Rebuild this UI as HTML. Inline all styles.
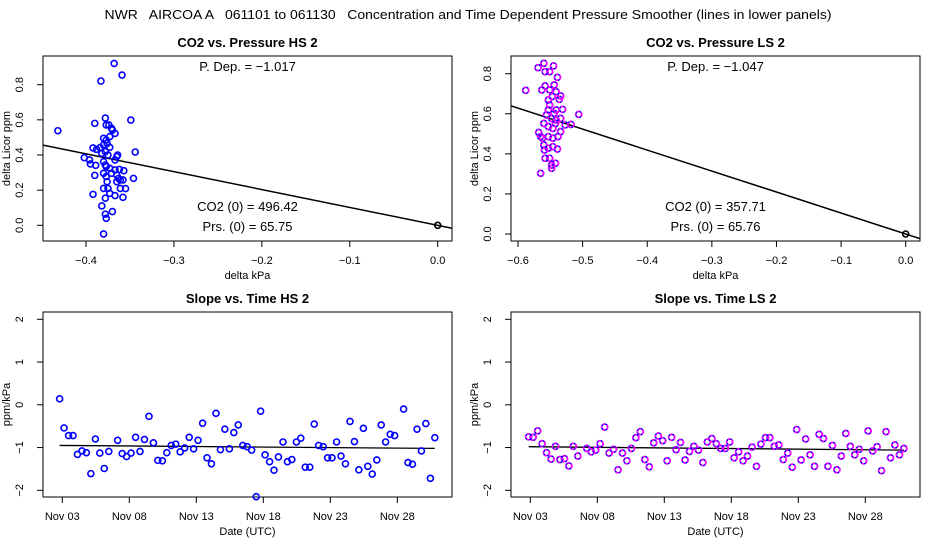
<!DOCTYPE html>
<html><head><meta charset="utf-8"><style>
html,body{margin:0;padding:0;background:#fff;}
svg{display:block;font-family:"Liberation Sans",sans-serif;}
</style></head><body>
<svg id="chart" width="936" height="540" viewBox="0 0 936 540" xmlns="http://www.w3.org/2000/svg">
<rect width="936" height="540" fill="#fff"/>
<text x="468" y="19" text-anchor="middle" font-size="13" style="white-space:pre" xml:space="preserve" textLength="727" lengthAdjust="spacingAndGlyphs">NWR   AIRCOA A   061101 to 061130   Concentration and Time Dependent Pressure Smoother (lines in lower panels)</text>
</svg>
<script>
// ---- data: top-left (HS) scatter ----
const hsDp = [-0.432,-0.368,-0.359,-0.383,-0.378,-0.349,-0.390,-0.344,-0.402,-0.396,-0.395,-0.389,-0.392,-0.388,-0.384,-0.380,-0.377,-0.373,-0.370,-0.367,-0.374,-0.377,-0.371,-0.380,-0.376,-0.373,-0.382,-0.378,-0.375,-0.365,-0.364,-0.367,-0.380,-0.378,-0.377,-0.373,-0.367,-0.362,-0.357,-0.390,-0.380,-0.377,-0.371,-0.365,-0.363,-0.361,-0.376,-0.365,-0.361,-0.355,-0.380,-0.375,-0.373,-0.367,-0.358,-0.378,-0.392,-0.382,-0.370,-0.378,-0.377,-0.380,-0.346,-0.358];
const hsDc = [0.538,0.921,0.855,0.821,0.610,0.599,0.580,0.417,0.385,0.372,0.349,0.341,0.440,0.432,0.442,0.457,0.485,0.504,0.542,0.523,0.571,0.571,0.552,0.495,0.466,0.444,0.409,0.419,0.400,0.391,0.400,0.372,0.362,0.343,0.334,0.324,0.315,0.318,0.311,0.284,0.296,0.277,0.296,0.286,0.267,0.258,0.248,0.248,0.210,0.209,0.210,0.210,0.182,0.169,0.159,0.154,0.176,0.110,0.078,0.063,0.040,-0.049,0.267,0.258];
const hsSlope = -1.017;
// ---- data: top-right (LS) scatter ----
const lsDp = [-0.588,-0.569,-0.560,-0.558,-0.551,-0.545,-0.539,-0.563,-0.558,-0.551,-0.544,-0.541,-0.534,-0.536,-0.553,-0.547,-0.551,-0.553,-0.541,-0.531,-0.506,-0.544,-0.556,-0.548,-0.541,-0.534,-0.518,-0.527,-0.560,-0.553,-0.546,-0.568,-0.562,-0.553,-0.546,-0.538,-0.534,-0.560,-0.553,-0.546,-0.539,-0.559,-0.558,-0.551,-0.548,-0.542,-0.548,-0.565,-0.565,-0.542];
const lsDc = [0.717,0.830,0.852,0.810,0.810,0.839,0.782,0.719,0.739,0.719,0.744,0.710,0.689,0.672,0.669,0.686,0.644,0.619,0.619,0.622,0.597,0.602,0.594,0.577,0.569,0.577,0.547,0.544,0.552,0.536,0.527,0.507,0.478,0.486,0.478,0.486,0.511,0.444,0.428,0.436,0.424,0.419,0.378,0.378,0.344,0.353,0.328,0.303,0.486,0.552];
const lsSlope = -1.047;
// ---- data: bottom-left (HS) slope vs time; day of November ----
const hsDays = [2.80,3.13,3.47,3.80,4.13,4.47,4.80,5.13,5.47,5.80,6.13,6.47,7.13,7.47,7.80,8.13,8.47,8.80,9.13,9.47,9.80,10.13,10.47,10.80,11.13,11.47,11.80,12.13,12.47,12.80,13.13,13.47,13.80,14.13,14.47,14.80,15.13,15.47,15.80,16.13,16.47,16.80,17.13,17.47,17.80,18.13,18.47,18.80,19.13,19.47,19.80,20.13,20.47,20.80,21.13,21.47,21.80,22.13,22.47,22.80,23.13,23.47,23.80,24.13,24.47,24.80,25.13,25.47,25.80,26.13,26.47,26.80,27.13,27.47,27.80,28.47,28.80,29.13,29.47,29.80,30.13,30.47,30.80];
const hsSlopes = [0.14,-0.54,-0.72,-0.72,-1.16,-1.08,-1.12,-1.61,-0.80,-1.13,-1.49,-1.09,-0.83,-1.14,-1.21,-1.13,-0.76,-1.09,-0.81,-0.27,-0.89,-1.30,-1.31,-1.12,-0.95,-0.92,-1.10,-1.01,-0.76,-1.03,-0.83,-0.43,-1.24,-1.38,-0.20,-1.05,-0.57,-1.03,-0.65,-0.47,-0.95,-0.98,-1.06,-2.15,-0.15,-1.17,-1.33,-1.53,-1.22,-0.87,-1.33,-1.28,-0.87,-0.78,-1.46,-1.46,-0.45,-0.95,-0.98,-1.24,-1.24,-0.87,-1.20,-1.38,-0.39,-0.86,-1.52,-0.55,-1.44,-1.62,-1.29,-0.47,-0.87,-0.69,-0.72,-0.10,-1.35,-1.39,-0.57,-1.08,-0.44,-1.72,-0.77];
const hsSmooth = [-0.95,-1.02];
// ---- data: bottom-right (LS) slope vs time ----
const lsDays = [2.88,3.21,3.55,3.88,4.21,4.55,4.88,5.21,5.55,5.88,6.21,6.55,7.21,7.55,7.88,8.21,8.55,8.88,9.21,9.55,9.88,10.21,10.55,10.88,11.21,11.55,11.88,12.21,12.55,12.88,13.21,13.55,13.88,14.21,14.55,14.88,15.21,15.55,15.88,16.21,16.55,16.88,17.21,17.55,17.88,18.21,18.55,18.88,19.21,19.55,19.88,20.21,20.55,20.88,21.21,21.55,21.88,22.21,22.55,22.88,23.21,23.55,23.88,24.21,24.55,24.88,25.21,25.55,25.88,26.21,26.55,26.88,27.21,27.55,27.88,28.21,28.55,28.88,29.21,29.55,29.88,30.21,30.55,30.88];
const lsSlopes = [-0.75,-0.76,-0.61,-0.91,-1.12,-1.27,-0.97,-1.28,-1.26,-1.43,-0.97,-1.20,-1.02,-1.10,-1.06,-0.91,-0.52,-1.13,-1.04,-1.52,-1.13,-1.31,-1.02,-0.77,-0.63,-1.28,-1.45,-0.89,-0.73,-0.84,-1.31,-0.76,-1.05,-0.88,-1.29,-1.09,-0.97,-1.06,-1.35,-0.87,-0.79,-0.91,-1.02,-1.02,-0.87,-1.24,-1.10,-1.31,-1.20,-0.99,-1.44,-0.92,-0.77,-0.77,-0.97,-0.94,-1.28,-1.13,-1.46,-0.58,-1.29,-0.80,-1.17,-1.44,-0.69,-0.79,-1.44,-0.95,-1.52,-1.20,-0.67,-0.97,-1.17,-1.04,-1.31,-0.61,-1.08,-0.98,-1.54,-0.63,-1.24,-0.94,-1.17,-1.02];
const lsSmooth = [-0.98,-1.06];
const dateTicks = [3,8,13,18,23,28];
const dateLabels = ["Nov 03","Nov 08","Nov 13","Nov 18","Nov 23","Nov 28"];
const hsXTicks = [-0.4,-0.3,-0.2,-0.1,0.0];
const lsXTicks = [-0.6,-0.5,-0.4,-0.3,-0.2,-0.1,0.0];
const topYTicks = [0.0,0.2,0.4,0.6,0.8];
const botYTicks = [-2,-1,0,1,2];

const svg = document.getElementById('chart');
const NS = 'http://www.w3.org/2000/svg';
function mk(tag, attrs, parent){const e=document.createElementNS(NS,tag);for(const k in attrs)e.setAttribute(k,attrs[k]);(parent||svg).appendChild(e);return e;}
function lin(d0,d1,r0,r1){return v=>r0+(v-d0)*(r1-r0)/(d1-d0);}
function fmt(v,d){let s=v.toFixed(d);if(v<0)s='\u2212'+s.slice(1);return s;}

function panel(p){
  const g=mk('g',{});
  
  
  const b=mk('rect',{x:p.L,y:p.T,width:p.R-p.L,height:p.B-p.T,fill:'none',stroke:'#000','stroke-width':1},g);
  
  
  const t=mk('text',{x:(p.L+p.R)/2,y:p.T-9,'text-anchor':'middle','font-size':13,'font-weight':'bold'},g);
  t.textContent=p.title;
  
  
  const xa=mk('g',{},g);
  
  
  const xs=p.xTicks.map(p.sx);
  mk('line',{x1:xs[0],x2:xs[xs.length-1],y1:p.B,y2:p.B,stroke:'#000'},xa);
  p.xTicks.forEach((v,i)=>{
    mk('line',{x1:xs[i],x2:xs[i],y1:p.B,y2:p.B+6,stroke:'#000'},xa);
    const tl=mk('text',{x:xs[i],y:p.B+23,'text-anchor':'middle','font-size':11},xa);
    tl.textContent=p.xLabels[i];
    
    
  });
  const xt=mk('text',{x:(p.L+p.R)/2,y:p.B+38,'text-anchor':'middle','font-size':11},g);
  xt.textContent=p.xTitle;
  
  
  const ya=mk('g',{},g);
  
  
  const ys=p.yTicks.map(p.sy);
  mk('line',{x1:p.L,x2:p.L,y1:ys[0],y2:ys[ys.length-1],stroke:'#000'},ya);
  p.yTicks.forEach((v,i)=>{
    mk('line',{x1:p.L-6,x2:p.L,y1:ys[i],y2:ys[i],stroke:'#000'},ya);
    const tl=mk('text',{x:0,y:0,'text-anchor':'middle','font-size':11,transform:`translate(${p.L-20},${ys[i]}) rotate(-90)`},ya);
    tl.textContent=p.yLabels[i];
    
    
  });
  const yt=mk('text',{x:0,y:0,'text-anchor':'middle','font-size':11,transform:`translate(${p.L-33},${(p.T+p.B)/2}) rotate(-90)`},g);
  yt.textContent=p.yTitle;
  
  
  return g;
}
function dot(g,x,y,magenta){
  if(magenta){
    const c1=mk('circle',{cx:x,cy:y,r:3,fill:'none',stroke:'#0000ff','stroke-width':1.6},g);
    
    
    mk('circle',{cx:x,cy:y,r:3,fill:'none',stroke:'#ff00ff','stroke-width':1.6,'stroke-dasharray':'2.5 1.5'},g);
  } else {
    const c=mk('circle',{cx:x,cy:y,r:3,fill:'none',stroke:'#0000ff','stroke-width':1.6},g);
    
    
  }
}
function clip(id,L,T,R,B){const cp=mk('clipPath',{id:id});mk('rect',{x:L,y:T,width:R-L,height:B-T},cp);}

function scatterPanel(o){
  const sx=lin(o.x0,0.0,o.px0,o.px1), sy=lin(0,0.8,o.py0,o.py1);
  const p={name:o.name,title:o.title,L:o.L,R:o.R,T:56,B:241,sx:sx,sy:sy,xTicks:o.xTicks,xLabels:o.xTicks.map(v=>fmt(v,1)),yTicks:topYTicks,yLabels:topYTicks.map(v=>v.toFixed(1)),xTitle:'delta kPa',yTitle:'delta Licor ppm'};
  const g=panel(p);
  clip(o.name+'-clip',p.L,p.T,p.R,p.B);
  const xmin=o.x0-(o.px0-p.L)/(o.px1-o.px0)*(0-o.x0), xmax=(p.R-o.px1)/(o.px1-o.px0)*(0-o.x0);
  const ln=mk('line',{x1:sx(xmin),y1:sy(o.slope*xmin),x2:sx(xmax),y2:sy(o.slope*xmax),stroke:'#000','stroke-width':1.5,'clip-path':`url(#${o.name}-clip)`},g);
  
  
  o.xs.forEach((v,i)=>dot(g,sx(v),sy(o.ys[i]),o.magenta));
  const z=mk('circle',{cx:sx(0),cy:sy(0),r:3,fill:'none',stroke:'#000','stroke-width':1.6},g);
  
  
  const cx=(p.L+p.R)/2;
  [[o.t1,71],[o.t2,211],[o.t3,231]].forEach(([s,y])=>{
    const t=mk('text',{x:cx,y:y,'text-anchor':'middle','font-size':13},g);
    t.textContent=s;
    
    
  });
}
scatterPanel({name:'panel-co2-pressure-hs',title:'CO2 vs. Pressure HS 2',L:43,R:452,x0:-0.4,px0:86,px1:437.7,py0:225.3,py1:84.7,xTicks:hsXTicks,xs:hsDp,ys:hsDc,slope:hsSlope,magenta:false,t1:'P. Dep. =  \u22121.017',t2:'CO2 (0) =  496.42',t3:'Prs. (0) =  65.75'});
scatterPanel({name:'panel-co2-pressure-ls',title:'CO2 vs. Pressure LS 2',L:511,R:920,x0:-0.6,px0:518,px1:905.7,py0:234,py1:73.7,xTicks:lsXTicks,xs:lsDp,ys:lsDc,slope:lsSlope,magenta:true,t1:'P. Dep. =  \u22121.047',t2:'CO2 (0) =  357.71',t3:'Prs. (0) =  65.76'});

function timePanel(o){
  const sx=lin(3,28,o.px0,o.px0+335), sy=lin(0,1,404.8,362.05);
  const p={name:o.name,title:o.title,L:o.L,R:o.R,T:312,B:497,sx:sx,sy:sy,xTicks:dateTicks,xLabels:dateLabels,yTicks:botYTicks,yLabels:botYTicks.map(v=>v<0?'\u2212'+(-v):String(v)),xTitle:'Date (UTC)',yTitle:'ppm/kPa'};
  const g=panel(p);
  const d0=o.days[0], d1=o.days[o.days.length-1];
  const ln=mk('line',{x1:sx(d0),y1:sy(o.smooth[0]),x2:sx(d1),y2:sy(o.smooth[1]),stroke:'#000','stroke-width':1.3},g);
  
  
  o.days.forEach((d,i)=>dot(g,sx(d),sy(o.vals[i]),o.magenta));
}
timePanel({name:'panel-slope-time-hs',title:'Slope vs. Time HS 2',L:43,R:452,px0:62.3,days:hsDays,vals:hsSlopes,smooth:hsSmooth,magenta:false});
timePanel({name:'panel-slope-time-ls',title:'Slope vs. Time LS 2',L:511,R:920,px0:530.3,days:lsDays,vals:lsSlopes,smooth:lsSmooth,magenta:true});
</script>
</body></html>
